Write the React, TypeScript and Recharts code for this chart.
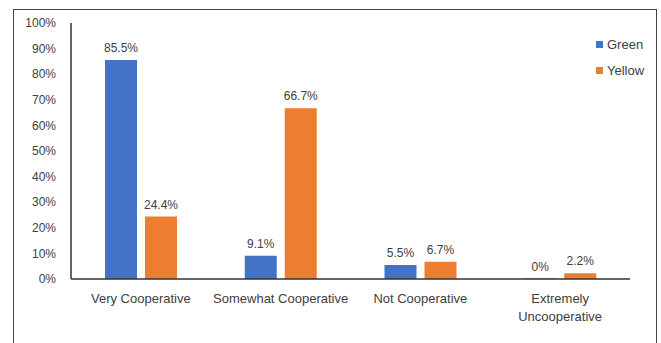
import React from 'react';
import { BarChart, Bar, XAxis, YAxis, LabelList, Legend } from 'recharts';

const categories = ['Very Cooperative', 'Somewhat Cooperative', 'Not Cooperative', 'Extremely Uncooperative'];
const categoryLines = [['Very Cooperative'], ['Somewhat Cooperative'], ['Not Cooperative'], ['Extremely', 'Uncooperative']];
const greenValues = [85.5, 9.1, 5.5, 0];
const yellowValues = [24.4, 66.7, 6.7, 2.2];
const yTicks = [0, 10, 20, 30, 40, 50, 60, 70, 80, 90, 100];
const seriesNames = ['Green', 'Yellow'];
const seriesColors = ['#4472C4', '#ED7D31'];

const data = categories.map((c, i) => ({ name: c, idx: i, Green: greenValues[i], Yellow: yellowValues[i] }));

const FONT = '"Liberation Sans", Arial, sans-serif';
const TEXT = '#404040';

const CatTick = (props: any) => {
  const { x, y, payload } = props;
  const lines = categoryLines[payload.index] ?? [payload.value];
  return (
    <text x={x} y={y} textAnchor="middle" fontFamily={FONT} fontSize={13} fill={TEXT}>
      {lines.map((l: string, i: number) => (
        <tspan key={i} x={x} dy={i === 0 ? 10 : 18}>{l}</tspan>
      ))}
    </text>
  );
};

const LegendContent = () => (
  <div style={{ fontFamily: FONT, fontSize: 13, color: TEXT }}>
    {seriesNames.map((n, i) => (
      <div key={n} style={{ display: 'flex', alignItems: 'center', height: 26 }}>
        <span style={{ display: 'inline-block', width: 7, height: 7, background: seriesColors[i], marginRight: 4 }} />
        <span>{n}</span>
      </div>
    ))}
  </div>
);

const zeroMin = (value: any) => (value === 0 ? 0.5 : 0);

export default function App() {
  return (
    <div style={{ position: 'absolute', left: 0, top: 0, width: 661, height: 343, background: '#fff', overflow: 'hidden' }}>
      <div style={{ position: 'absolute', left: 13, top: 9, width: 642, height: 340, borderLeft: '1px solid #444', borderTop: '1px solid #444', borderRight: '1px solid #444' }} />
      <BarChart width={661} height={343} data={data} margin={{ top: 23, right: 31, bottom: 34, left: 21 }} barGap={8} barSize={32}>
        <YAxis
          width={50}
          domain={[0, 100]}
          ticks={yTicks}
          interval={0}
          tickFormatter={(v: number) => `${v}%`}
          tickLine={false}
          tickSize={0}
          tickMargin={15}
          axisLine={{ stroke: '#333', strokeWidth: 1.5 }}
          tick={{ fontFamily: FONT, fontSize: 12, fill: TEXT }}
        />
        <XAxis
          dataKey="name"
          height={30}
          tickLine={false}
          tickSize={0}
          tickMargin={14}
          axisLine={{ stroke: '#333', strokeWidth: 1.5 }}
          tick={<CatTick />}
          interval={0}
        />
        <Legend
          layout="horizontal"
          align="center"
          verticalAlign="middle"
          content={<LegendContent />}
          wrapperStyle={{ top: 31, left: 596, width: 60, height: 52 }}
        />
        {seriesNames.map((n, i) => (
          <Bar key={n} dataKey={n} fill={seriesColors[i]} isAnimationActive={false} minPointSize={zeroMin}>
            <LabelList
              dataKey={n}
              position="top"
              offset={8}
              formatter={(v: any) => `${v}%`}
              style={{ fontFamily: FONT, fontSize: 12, fill: TEXT }}
            />
          </Bar>
        ))}
      </BarChart>
    </div>
  );
}
